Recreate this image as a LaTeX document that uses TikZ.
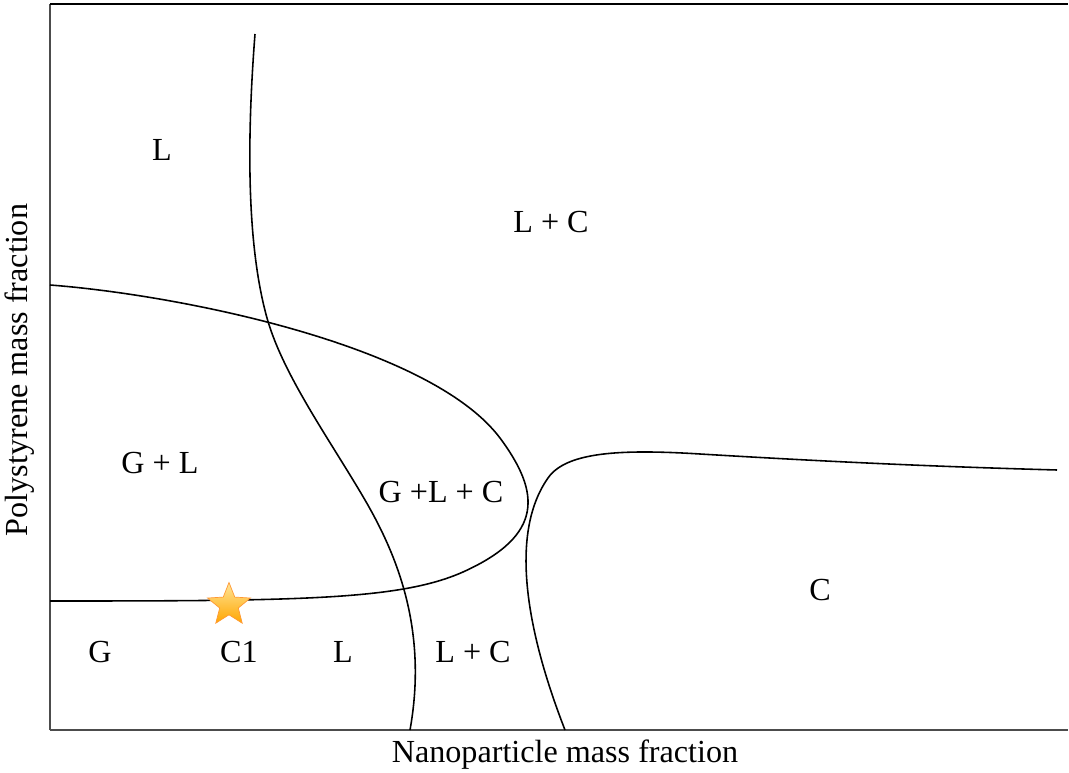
\documentclass[tikz,border=0pt]{standalone}
\usepackage{fontspec}
\setmainfont{Liberation Serif}
\usetikzlibrary{shapes.geometric}

\begin{document}
\begin{tikzpicture}[x=0.02cm,y=-0.02cm,font=\fontsize{18.3}{21}\selectfont,
  region/.style={inner sep=0pt},
  boundary/.style={line width=0.9pt}]
\useasboundingbox (0,0) rectangle (1069,773);
% frame
\draw[black!70,line width=0.6pt] (50,730) -- (50,4);
\draw[line width=0.6pt] (50,4) -- (1068,4);
\draw[black!70,line width=0.6pt] (50,730) -- (1068,730);
% phase boundaries
\draw[boundary] (255,34) .. controls (246,150) and (248,250) .. (267,318)
  .. controls (283,375) and (330,440) .. (365,500)
  .. controls (397,555) and (428,630) .. (410,730);
\draw[boundary] (50,285) .. controls (180,295) and (430,345) .. (500,438)
  .. controls (540,492) and (545,535) .. (463,572)
  .. controls (400,600) and (300,601) .. (50,601);
\draw[boundary] (565,730) .. controls (528,635) and (508,535) .. (548,478)
  .. controls (566,452) and (620,449) .. (700,454)
  .. controls (850,463) and (950,467) .. (1057,470);
% labels
\node[region] (l1) at (162,150) {L};
\node[region] (lc1) at (551,222) {L + C};
\node[region] (gl) at (160,463) {G + L};
\node[region] (glc) at (441,492) {G +L + C};
\node[region] (c) at (820,590) {C};
\node[region] (g) at (100,652) {G};
\node[region] (c1) at (239,652) {C1};
\node[region] (l2) at (343,652) {L};
\node[region] (lc2) at (473,652) {L + C};
\node[star,star points=5,star point ratio=2.3,minimum size=0.9cm,inner sep=0pt,
  draw=orange!80,top color=yellow!50!orange!40,bottom color=orange!70!yellow,shading angle=0] (star) at (229,605) {};
% axes
\node (xlab) at (565,755) {Nanoparticle mass fraction};
\node[rotate=90] (ylab) at (20,370) {Polystyrene mass fraction};
\end{tikzpicture}
\end{document}
